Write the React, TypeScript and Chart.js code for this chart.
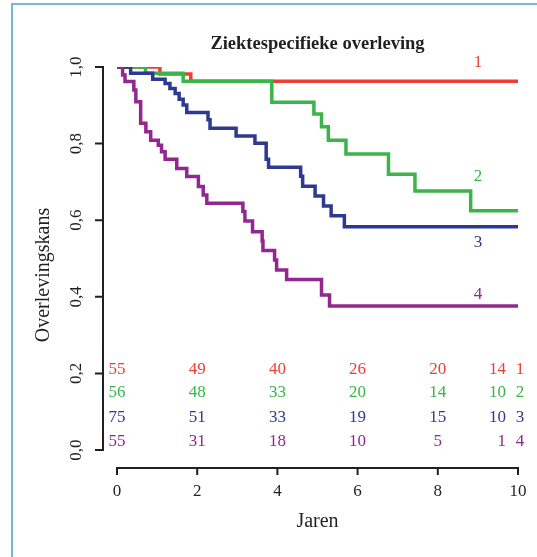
import { useEffect, useRef } from "react";
import { Chart, registerables } from "chart.js";

Chart.register(...registerables);

// ---- axes ----
const xTicks = [0, 2, 4, 6, 8, 10];
const xTickLabels = ["0", "2", "4", "6", "8", "10"];
const yTicks = [0, 0.2, 0.4, 0.6, 0.8, 1.0];
const yTickLabels = ["0,0", "0,2", "0,4", "0,6", "0,8", "1,0"];

// ---- series (Kaplan-Meier steps) ----
const groupNames = ["1", "2", "3", "4"];

const times1 = [0, 1.07, 1.84, 10];
const surv1 = [1, 0.982, 0.963, 0.963];

const times2 = [0, 0.71, 1.65, 3.86, 4.91, 5.1, 5.27, 5.71, 6.77, 7.43, 8.82, 10];
const surv2 = [1, 0.984, 0.963, 0.908, 0.877, 0.844, 0.809, 0.773, 0.72, 0.676, 0.625, 0.625];

const times3 = [0, 0.34, 0.89, 1.2, 1.32, 1.45, 1.55, 1.65, 1.74, 2.27, 2.32, 2.97, 3.44, 3.72, 3.78, 4.58, 4.63, 4.94, 5.15, 5.34, 5.67, 10];
const surv3 = [1, 0.984, 0.968, 0.957, 0.944, 0.931, 0.916, 0.901, 0.881, 0.862, 0.84, 0.82, 0.801, 0.759, 0.738, 0.715, 0.689, 0.663, 0.637, 0.612, 0.583, 0.583];

const times4 = [0, 0.14, 0.2, 0.42, 0.47, 0.59, 0.72, 0.84, 1.03, 1.11, 1.2, 1.49, 1.74, 2.03, 2.15, 2.24, 3.14, 3.19, 3.38, 3.62, 3.64, 3.93, 3.98, 4.23, 5.1, 5.3, 10];
const surv4 = [1, 0.979, 0.962, 0.94, 0.909, 0.853, 0.831, 0.809, 0.796, 0.779, 0.759, 0.735, 0.714, 0.688, 0.666, 0.644, 0.623, 0.598, 0.57, 0.546, 0.521, 0.496, 0.47, 0.445, 0.405, 0.376, 0.376];

// ---- numbers at risk ----
const riskTimes = [0, 2, 4, 6, 8, 10];
const risk1 = [55, 49, 40, 26, 20, 14];
const risk2 = [56, 48, 33, 20, 14, 10];
const risk3 = [75, 51, 33, 19, 15, 10];
const risk4 = [55, 31, 18, 10, 5, 1];
const riskRowY = [0.209, 0.151, 0.084, 0.021];

// ---- curve labels ----
const curveLabelX = 9;
const curveLabelY = [1.012, 0.715, 0.541, 0.405];

// ---- style ----
const COLORS = ["#ee3f35", "#3bb44a", "#2e3a92", "#92278f"];
const INK = "#231f20";
const FONT = "'Liberation Serif', 'DejaVu Serif', serif";
const Y_SCALE_FLOOR = -0.086; // plot region extends below 0 (R-style detached axes)

const allTimes = [times1, times2, times3, times4];
const allSurv = [surv1, surv2, surv3, surv4];
const allRisk = [risk1, risk2, risk3, risk4];

const rStylePlugin = {
  id: "rStyle",
  afterDatasetsDraw(chart: any) {
    const { ctx } = chart;
    const xs = chart.scales.x;
    const ys = chart.scales.y;
    ctx.save();
    // detached axes
    ctx.strokeStyle = INK;
    ctx.lineWidth = 2;
    ctx.lineCap = "square";
    const ax = xs.getPixelForValue(xTicks[0]) - 14;
    const ay = ys.getPixelForValue(yTicks[0]) + 18;
    ctx.beginPath();
    ctx.moveTo(ax, ys.getPixelForValue(yTicks[0]));
    ctx.lineTo(ax, ys.getPixelForValue(yTicks[yTicks.length - 1]));
    yTicks.forEach((v) => {
      const py = ys.getPixelForValue(v);
      ctx.moveTo(ax, py);
      ctx.lineTo(ax - 7, py);
    });
    ctx.moveTo(xs.getPixelForValue(xTicks[0]), ay);
    ctx.lineTo(xs.getPixelForValue(xTicks[xTicks.length - 1]), ay);
    xTicks.forEach((v) => {
      const px = xs.getPixelForValue(v);
      ctx.moveTo(px, ay);
      ctx.lineTo(px, ay + 6);
    });
    ctx.stroke();

    // numbers at risk
    ctx.font = `17px ${FONT}`;
    ctx.textBaseline = "middle";
    allRisk.forEach((row, g) => {
      ctx.fillStyle = COLORS[g];
      const py = ys.getPixelForValue(riskRowY[g]);
      row.forEach((n, i) => {
        const last = i === row.length - 1;
        const px = xs.getPixelForValue(riskTimes[i]);
        ctx.textAlign = last ? "right" : "center";
        ctx.fillText(String(n), last ? px - 12 : px, py);
      });
      ctx.textAlign = "center";
      ctx.fillText(groupNames[g], xs.getPixelForValue(riskTimes[riskTimes.length - 1]) + 2, py);
    });

    // curve labels
    groupNames.forEach((name, g) => {
      ctx.fillStyle = COLORS[g];
      ctx.textAlign = "center";
      ctx.fillText(name, xs.getPixelForValue(curveLabelX), ys.getPixelForValue(curveLabelY[g]));
    });
    ctx.restore();
  },
};

export default function App() {
  const ref = useRef<HTMLCanvasElement | null>(null);
  useEffect(() => {
    if (!ref.current) return;
    const datasets = allTimes.map((ts, g) => ({
      label: groupNames[g],
      data: ts.map((t, i) => ({ x: t, y: allSurv[g][i] })),
      borderColor: COLORS[g],
      backgroundColor: COLORS[g],
      borderWidth: 3.5,
      pointRadius: 0,
      stepped: "before" as const,
      fill: false,
      order: 4 - g,
    }));
    const chart = new Chart(ref.current, {
      type: "line",
      data: { datasets },
      plugins: [rStylePlugin],
      options: {
        animation: false,
        responsive: false,
        devicePixelRatio: 1,
        layout: { padding: { top: 0, right: 19, bottom: 0, left: 0 } },
        plugins: {
          legend: { display: false },
          tooltip: { enabled: false },
          title: {
            display: true,
            text: "Ziektespecifieke overleving",
            fullSize: false,
            color: INK,
            font: { family: FONT, size: 18.5, weight: "bold" },
            padding: { top: 32.8, bottom: 12 },
          },
        },
        scales: {
          x: {
            type: "linear",
            min: 0,
            max: 10,
            bounds: "data",
            afterBuildTicks: (s: any) => {
              s.ticks = xTicks.map((v) => ({ value: v }));
            },
            afterFit: (s: any) => {
              s.height = 74;
            },
            grid: { display: false, drawTicks: false },
            border: { display: false },
            ticks: {
              autoSkip: false,
              maxRotation: 0,
              padding: -2,
              color: INK,
              font: { family: FONT, size: 17 },
              callback: (_v: any, i: number) => xTickLabels[i],
            },
            title: {
              display: true,
              text: "Jaren",
              color: INK,
              font: { family: FONT, size: 20 },
              padding: { top: 0, bottom: 23.3 },
            },
          },
          y: {
            type: "linear",
            min: Y_SCALE_FLOOR,
            max: 1,
            bounds: "data",
            afterBuildTicks: (s: any) => {
              s.ticks = yTicks.map((v) => ({ value: v }));
            },
            afterFit: (s: any) => {
              s.width = 117;
            },
            grid: { display: false, drawTicks: false },
            border: { display: false },
            ticks: {
              autoSkip: false,
              minRotation: 90,
              maxRotation: 90,
              crossAlign: "center",
              padding: 30,
              color: INK,
              font: { family: FONT, size: 17 },
              callback: (_v: any, i: number) => yTickLabels[i],
            },
            title: {
              display: true,
              text: "Overlevingskans",
              color: INK,
              font: { family: FONT, size: 20 },
              padding: { top: 31.4, bottom: 0 },
            },
          },
        },
      },
    });
    return () => chart.destroy();
  }, []);

  return (
    <div style={{ position: "fixed", left: 0, top: 0, width: 537, height: 557, background: "#fff", overflow: "hidden" }}>
      <div
        style={{
          position: "absolute",
          left: 11,
          top: 3,
          width: 600,
          height: 600,
          borderLeft: "2px solid #78b4e2",
          borderTop: "2px solid #78b4e2",
        }}
      />
      <canvas ref={ref} width={537} height={557} style={{ position: "absolute", left: 0, top: 0 }} />
    </div>
  );
}
